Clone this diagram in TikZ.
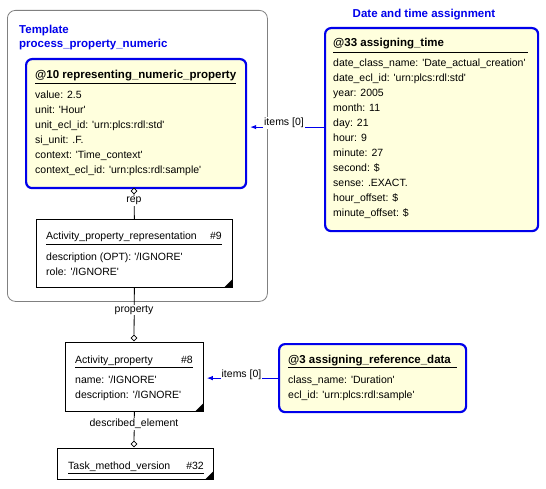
\documentclass[tikz,border=0pt]{standalone}
\usepackage{fontspec}
\setmainfont{Liberation Sans}[Ligatures=TeXOff]
\usetikzlibrary{arrows.meta,shapes.geometric}
\definecolor{tblue}{RGB}{0,0,235}
\definecolor{tfill}{RGB}{255,255,221}
\newcommand\rfont{\fontsize{10.5}{12}\selectfont}
\newcommand\hfont{\fontsize{11.5}{13}\selectfont\bfseries}
\tikzset{
  ent/.style={draw=black, line width=0.8pt, fill=white, anchor=north west, inner sep=0pt},
  inst/.style={draw=tblue, line width=2.2pt, fill=tfill, rounded corners=6pt, anchor=north west, inner sep=0pt},
  attr/.style={anchor=base west, inner sep=0pt, font=\rfont},
  num/.style={anchor=base east, inner sep=0pt, font=\rfont},
  hdr/.style={anchor=base west, inner sep=0pt, font=\hfont},
  ttl/.style={inner sep=0pt, font=\hfont, text=tblue},
  lbl/.style={fill=white, inner sep=1pt, font=\rfont},
  rel/.style={draw=black, line width=0.8pt},
  link/.style={draw=tblue, line width=1pt, -{Latex[length=6pt,width=4.5pt]}, shorten >=3pt},
  dia/.style={diamond, draw=black, fill=white, line width=0.6pt, inner sep=0pt, minimum width=6pt, minimum height=6pt},
  uline/.style={draw=black, line width=0.8pt},
  corner/.style={fill=black}
}
\begin{document}
\begin{tikzpicture}[x=1pt,y=-1pt]
\useasboundingbox (0,0) rectangle (546,489);
\fill[white] (0,0) rectangle (546,489);

% template container
\node[draw=gray, line width=0.8pt, rounded corners=8pt, anchor=north west, minimum width=260pt, minimum height=291pt, inner sep=0pt] (tpl) at (7,10) {};
\node[ttl, anchor=base west] (tplA) at (19,34) {Template};
\node[ttl, anchor=base west] (tplB) at (19,48) {process\_property\_numeric};

% @10
\node[inst, minimum width=220pt, minimum height=129pt] (a10) at (25,58) {};
\node[hdr] (a10h) at (35,79) {@10 representing\_numeric\_property};
\draw[uline] (35,83.5) -- (236,83.5);
\foreach \t [count=\i from 0] in {value: 2.5, unit: 'Hour', unit\_ecl\_id: 'urn:plcs:rdl:std', si\_unit: .F., context: 'Time\_context', context\_ecl\_id: 'urn:plcs:rdl:sample'}
  \node[attr] (a10-\i) at (35,99+15*\i) {\t};

% Activity_property_representation #9
\node[ent, minimum width=196pt, minimum height=68pt] (apr) at (36,219) {};
\node[attr] (aprh) at (46,240) {Activity\_property\_representation};
\node[num] (aprn) at (222,240) {\#9};
\draw[uline] (46,244) -- (222,244);
\node[attr] (apr1) at (46,260) {description (OPT): '/IGNORE'};
\node[attr] (apr2) at (46,275) {role: '/IGNORE'};
\fill[corner] ([shift={(-0.5pt,0.5pt)}]apr.south east) -- ++(-8,0) -- ++(8,-8) -- cycle;

% Activity_property #8
\node[ent, minimum width=138pt, minimum height=69pt] (ap) at (65,342) {};
\node[attr] (aph) at (75,363) {Activity\_property};
\node[num] (apn) at (193,363) {\#8};
\draw[uline] (75,367) -- (193,367);
\node[attr] (ap1) at (75,383) {name: '/IGNORE'};
\node[attr] (ap2) at (75,398) {description: '/IGNORE'};
\fill[corner] ([shift={(-0.5pt,0.5pt)}]ap.south east) -- ++(-8,0) -- ++(8,-8) -- cycle;

% Task_method_version #32
\node[ent, minimum width=156pt, minimum height=31pt] (tmv) at (57,448) {};
\node[attr] (tmvh) at (68,469) {Task\_method\_version};
\node[num] (tmvn) at (204,469) {\#32};
\draw[uline] (68,473) -- (204,473);
\fill[corner] ([shift={(-0.5pt,0.5pt)}]tmv.south east) -- ++(-8,0) -- ++(8,-8) -- cycle;

% @3
\node[inst, minimum width=187pt, minimum height=68pt] (a3) at (278,343) {};
\node[hdr] (a3h) at (288,363) {@3 assigning\_reference\_data};
\draw[uline] (288,367.5) -- (457,367.5);
\node[attr] (a31) at (288,383) {class\_name: 'Duration'};
\node[attr] (a32) at (288,398) {ecl\_id: 'urn:plcs:rdl:sample'};

% @33
\node[ttl, anchor=base] (a33t) at (424,18) {Date and time assignment};
\node[inst, minimum width=213pt, minimum height=203pt] (a33) at (324,27) {};
\node[hdr] (a33h) at (333,47) {@33 assigning\_time};
\draw[uline] (333,52) -- (528,52);
\foreach \t [count=\i from 0] in {date\_class\_name: 'Date\_actual\_creation', date\_ecl\_id: 'urn:plcs:rdl:std', year: 2005, month: 11, day: 21, hour: 9, minute: 27, second: \$, sense: .EXACT., hour\_offset: \$, minute\_offset: \$}
  \node[attr] (a33-\i) at (333,67+15*\i) {\t};

% relations
\node[dia] (d10) at (134,191) {};
\node[dia] (dap) at (134,338) {};
\node[dia] (dtmv) at (134,444) {};
\draw[rel] (d10) -- (apr.north);
\draw[rel] (apr.south) -- (dap);
\draw[rel] (ap.south) -- (dtmv);
\node[lbl] (lrep) at (134,201) {rep};
\node[lbl] (lprop) at (134,310) {property};
\node[lbl] (ldesc) at (134,424) {described\_element};

% items links
\coordinate (i1) at ([yshift=2.5pt]a33.west);
\draw[link] (i1) -- (a10.east |- i1);
\node[lbl, anchor=base] (li1) at (284,126) {items [0]};
\draw[link] (a3.west) -- (ap.east |- a3.west);
\node[lbl, anchor=base] (li2) at (241.5,377) {items [0]};
\end{tikzpicture}
\end{document}
